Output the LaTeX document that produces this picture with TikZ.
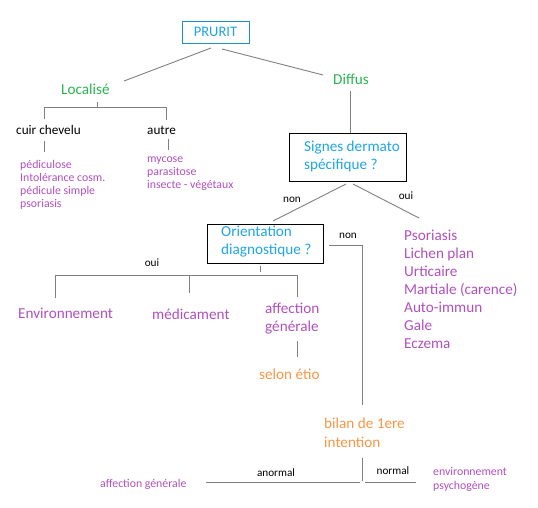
\documentclass[tikz,border=0pt]{standalone}
\usepackage{fontspec}
\setmainfont{Carlito}
\definecolor{blueT}{RGB}{30,165,230}
\definecolor{boxblue}{RGB}{30,144,200}
\definecolor{greenT}{RGB}{40,180,80}
\definecolor{purpleT}{RGB}{176,80,190}
\definecolor{orangeT}{RGB}{247,150,70}
\definecolor{lineG}{RGB}{128,128,128}
\begin{document}
\begin{tikzpicture}[x=1pt,y=-1pt,
  big/.style={font=\fontsize{15.2}{18}\selectfont, inner sep=0pt},
  med/.style={font=\fontsize{13.2}{15}\selectfont, inner sep=0pt},
  small/.style={font=\fontsize{11.8}{13}\selectfont, inner sep=0pt},
  lbl/.style={font=\fontsize{11.2}{12}\selectfont, inner sep=0pt},
  conn/.style={draw=lineG, line width=0.9pt},
  qbox/.style={draw=black, line width=0.9pt, inner sep=0pt}]
\useasboundingbox (0,0) rectangle (538,507);
% top
\node[draw=boxblue, line width=0.9pt, minimum width=67pt, minimum height=22pt, inner sep=0pt,
  text=blueT, font=\fontsize{14.5}{18}\selectfont] (prurit) at (215.5,32) {PRURIT};
\node[big, text=greenT, anchor=west] (loc) at (61,89) {Localisé};
\node[big, text=greenT, anchor=west] (dif) at (333,79) {Diffus};
\coordinate (p1) at (211,48); \coordinate (l1) at (124,81);
\coordinate (p2) at (222,49); \coordinate (d1) at (323,75);
\draw[conn] (p1) -- (l1);
\draw[conn] (p2) -- (d1);
% localise branch
\coordinate (lb0) at (97,102); \coordinate (lb1) at (97,107);
\coordinate (lbl) at (44,107); \coordinate (lbr) at (166,107);
\coordinate (lcl) at (44,119); \coordinate (lcr) at (166,120);
\draw[conn] (lb0) -- (lb1);
\draw[conn] (lcl) -- (lbl) -- (lbr) -- (lcr);
\node[med, anchor=west] (cuir) at (16,130) {cuir chevelu};
\node[med, anchor=west] (autre) at (147,130) {autre};
\coordinate (cs0) at (44,141); \coordinate (cs1) at (44,152);
\coordinate (as0) at (168,139); \coordinate (as1) at (168,150);
\draw[conn] (cs0) -- (cs1);
\draw[conn] (as0) -- (as1);
\node[small, text=purpleT, anchor=west, align=left] (cuirlist) at (20,184.5)
  {pédiculose\\Intolérance cosm.\\pédicule simple\\psoriasis};
\node[small, text=purpleT, anchor=west, align=left] (autrelist) at (147,173.5)
  {mycose\\parasitose\\insecte - végétaux};
% diffus branch
\node[qbox, minimum width=117pt, minimum height=48pt] (sig) at (347.5,157) {};
\node[big, text=blueT, anchor=west, align=left] (sigtxt) at (304,156) {Signes dermato\\spécifique ?};
\coordinate (d2) at (350,91);
\draw[conn] (d2) -- (d2 |- sig.north);
\coordinate (s1) at (346,184); \coordinate (o1) at (273,221);
\coordinate (s2) at (353,184); \coordinate (r1) at (419,218);
\draw[conn] (s1) -- (o1);
\draw[conn] (s2) -- (r1);
\node[lbl] (non1) at (292,200) {non};
\node[lbl] (oui1) at (406,196) {oui};
\node[big, text=purpleT, anchor=west, align=left] (plist) at (404,289)
  {Psoriasis\\Lichen plan\\Urticaire\\Martiale (carence)\\Auto-immun\\Gale\\Eczema};
% orientation
\node[qbox, minimum width=116pt, minimum height=39pt] (ori) at (265,243.5) {};
\node[big, text=blueT, anchor=west, align=left] (oritxt) at (221,242) {Orientation\\diagnostique ?};
\coordinate (n0) at (329,245); \coordinate (n1) at (362,245); \coordinate (n2) at (362,405);
\draw[conn] (n0) -- (n1) -- (n2);
\node[lbl] (non2) at (348,236) {non};
\coordinate (ob0) at (260,266); \coordinate (ob1) at (260,272);
\draw[conn] (ob0) -- (ob1);
\coordinate (h0) at (55,275); \coordinate (h1) at (297,275); \coordinate (hm) at (189,275);
\coordinate (e0) at (55,298); \coordinate (a0) at (297,297); \coordinate (m0) at (189,293);
\draw[conn] (e0) -- (h0) -- (h1) -- (a0);
\draw[conn] (hm) -- (m0);
\node[lbl] (oui2) at (152,263) {oui};
\node[big, text=purpleT, anchor=west] (env) at (18,313) {Environnement};
\node[big, text=purpleT, anchor=west] (med) at (152,314) {médicament};
\node[big, text=purpleT, anchor=west, align=left] (aff) at (265,319) {affection\\générale};
\coordinate (af0) at (297,341); \coordinate (af1) at (297,357);
\draw[conn] (af0) -- (af1);
\node[big, text=orangeT, anchor=west] (selon) at (259,374) {selon étio};
% bilan
\node[big, text=orangeT, anchor=west, align=left, font=\fontsize{15.2}{19}\selectfont] (bilan) at (324,432.5) {bilan de 1ere\\intention};
\coordinate (b0) at (362,458); \coordinate (b1) at (362,481);
\draw[conn] (b0) -- (b1);
\coordinate (bl0) at (206,482); \coordinate (bl1) at (360,482);
\coordinate (br0) at (365,482); \coordinate (br1) at (416,482);
\draw[conn] (bl0) -- (bl1);
\draw[conn] (br0) -- (br1);
\node[lbl] (anorm) at (276,473) {anormal};
\node[lbl] (norm) at (393,471) {normal};
\node[small, text=purpleT, anchor=west] (affg) at (100,484) {affection générale};
\node[small, text=purpleT, anchor=west, align=left, font=\fontsize{11.8}{14}\selectfont] (envp) at (433,479) {environnement\\psychogène};
\end{tikzpicture}
\end{document}
